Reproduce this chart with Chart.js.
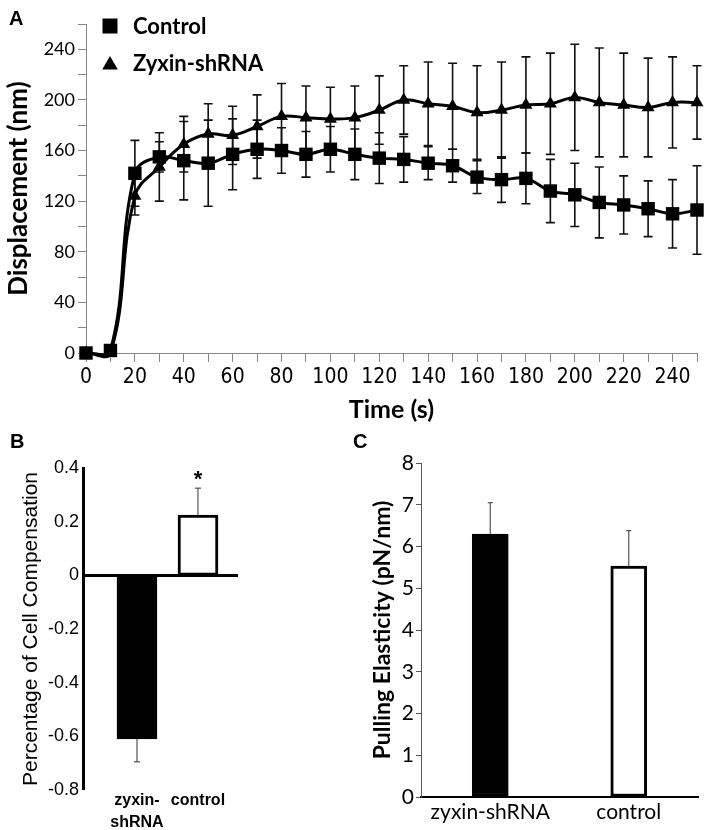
<!DOCTYPE html>
<html lang="en">
<head>
  <meta charset="UTF-8">
  <title>Zyxin-shRNA vs Control</title>
  <script src="https://cdn.jsdelivr.net/npm/chart.js"></script>
  <style>
    body { margin: 0; background: #fff; }
    .painel { position: absolute; }
    .letra { position: absolute; font: bold 20px "Liberation Sans", Arial, sans-serif; color: #000; }
  </style>
</head>
<body>
  <div class="painel" style="left:0; top:0; width:708px; height:430px;"><canvas id="graficoA"></canvas></div>
  <div class="painel" style="left:0; top:440px; width:340px; height:390px;"><canvas id="graficoB"></canvas></div>
  <div class="painel" style="left:340px; top:440px; width:368px; height:390px;"><canvas id="graficoC"></canvas></div>
  <div class="letra" style="left:9px; top:7px;">A</div>
  <div class="letra" style="left:10px; top:430px;">B</div>
  <div class="letra" style="left:353px; top:430px;">C</div>

  <script>
    // painel A: deslocamento ao longo do tempo
    const tempos = [0, 10, 20, 30, 40, 50, 60, 70, 80, 90, 100, 110, 120, 130, 140, 150, 160, 170, 180, 190, 200, 210, 220, 230, 240, 250];
    const controleMedia = [0, 2, 142, 155, 152, 150, 157, 161, 160, 157, 161, 157, 154, 153, 150, 148, 139, 137, 138, 128, 125, 119, 117, 114, 110, 113];
    const controleErro = [0, 0, 26, 12, 31, 34, 28, 23, 18, 18, 18, 20, 20, 18, 13, 13, 13, 18, 20, 25, 25, 28, 23, 22, 27, 35];
    const zyxinMedia = [0, 0, 124, 147, 165, 173, 172, 179, 187, 186, 185, 186, 192, 200, 197, 195, 190, 192, 196, 197, 202, 198, 196, 194, 198, 198];
    const zyxinErro = [0, 0, 15, 27, 22, 24, 23, 25, 26, 25, 25, 25, 27, 27, 33, 34, 37, 38, 38, 40, 42, 43, 41, 39, 36, 29];

    // paineis B e C
    const grupos = ['zyxin-shRNA', 'control'];
    const compensacao = [-0.61, 0.225];
    const compensacaoErro = [0.085, 0.1];
    const significancia = ['', '*'];
    const elasticidade = [6.3, 5.53];
    const elasticidadeErro = [0.75, 0.85];

    const fonteCalibri = 'Lato, "Open Sans", sans-serif';
    const fonteArial = '"Liberation Sans", Arial, sans-serif';
    const fonteEstreita = '"Liberation Sans Narrow", "DejaVu Sans Condensed", Lato, sans-serif';

    Chart.defaults.color = '#000';
    Chart.defaults.animation = false;
    Chart.defaults.plugins.legend.display = false;
    Chart.defaults.plugins.tooltip.enabled = false;

    const zero = v => Math.abs(v) < 1e-9;

    // barras de erro desenhadas com a escala y do grafico
    const barrasErro = {
      id: 'barrasErro',
      desenha(chart, o) {
        const { ctx } = chart;
        const escala = chart.scales.y;
        chart.data.datasets.forEach((ds, i) => {
          if (!ds.erros) return;
          chart.getDatasetMeta(i).data.forEach((el, j) => {
            const bruto = ds.data[j];
            const valor = typeof bruto === 'object' ? bruto.y : bruto;
            const e = ds.erros[j];
            if (!e) return;
            const ini = o.lado === 'fora' ? valor : valor - e;
            const fim = o.lado === 'fora' ? valor + Math.sign(valor) * e : valor + e;
            const y1 = escala.getPixelForValue(ini);
            const y2 = escala.getPixelForValue(fim);
            ctx.save();
            ctx.strokeStyle = o.cor;
            ctx.lineWidth = o.largura;
            ctx.beginPath();
            ctx.moveTo(el.x, y1);
            ctx.lineTo(el.x, y2);
            if (o.lado !== 'fora') {
              ctx.moveTo(el.x - o.tampa, y1);
              ctx.lineTo(el.x + o.tampa, y1);
            }
            ctx.moveTo(el.x - o.tampa, y2);
            ctx.lineTo(el.x + o.tampa, y2);
            ctx.stroke();
            if (ds.marcas && ds.marcas[j]) {
              ctx.fillStyle = '#000';
              ctx.font = 'bold 22px ' + fonteArial;
              ctx.textAlign = 'center';
              ctx.textBaseline = 'alphabetic';
              ctx.fillText(ds.marcas[j], el.x, y2 - 2);
            }
            ctx.restore();
          });
        });
      },
      beforeDatasetsDraw(chart, args, o) { if (o.atras) this.desenha(chart, o); },
      afterDatasetsDraw(chart, args, o) { if (!o.atras) this.desenha(chart, o); }
    };

    // legenda dentro da area do grafico A
    const legendaA = {
      id: 'legendaA',
      afterDraw(chart) {
        const { ctx, chartArea } = chart;
        chart.data.datasets.forEach((ds, i) => {
          const cy = chartArea.top + 2 + i * 37;
          const cx = chartArea.left + 24;
          ctx.save();
          ctx.fillStyle = '#000';
          Chart.helpers.drawPoint(ctx, {
            pointStyle: ds.pointStyle,
            radius: ds.pointStyle === 'rect' ? 10.6 : 9,
            rotation: 0,
            borderWidth: 0
          }, cx, cy + (ds.pointStyle === 'rect' ? 0 : 2));
          ctx.font = 'bold 22px ' + fonteCalibri;
          ctx.textAlign = 'left';
          ctx.textBaseline = 'middle';
          ctx.fillText(ds.label, chartArea.left + 47, cy + 1);
          ctx.restore();
        });
      }
    };

    const pontos = (xs, ys) => xs.map((x, i) => ({ x, y: ys[i] }));

    new Chart(document.getElementById('graficoA'), {
      type: 'line',
      data: {
        datasets: [{
          label: 'Control',
          data: pontos(tempos, controleMedia),
          erros: controleErro,
          borderColor: '#000',
          backgroundColor: '#000',
          borderWidth: 3,
          pointStyle: 'rect',
          pointRadius: 9.5,
          pointBorderWidth: 0,
          tension: 0.4,
          clip: false
        }, {
          label: 'Zyxin-shRNA',
          data: pontos(tempos, zyxinMedia),
          erros: zyxinErro,
          borderColor: '#000',
          backgroundColor: '#000',
          borderWidth: 3,
          pointStyle: 'triangle',
          pointRadius: 7.5,
          pointBorderWidth: 0,
          tension: 0.4,
          clip: false
        }]
      },
      options: {
        responsive: true,
        maintainAspectRatio: false,
        layout: { padding: { left: 0, right: 11, top: 24, bottom: 0 } },
        elements: { line: { capBezierPoints: false } },
        plugins: {
          barrasErro: { lado: 'ambos', cor: '#111', largura: 1.6, tampa: 4.5, atras: true }
        },
        scales: {
          x: {
            type: 'linear',
            min: 0,
            max: 250,
            afterFit: s => { s.height = 77; },
            ticks: {
              stepSize: 10,
              autoSkip: false,
              maxRotation: 0,
              padding: 3,
              font: { family: fonteEstreita, size: 21 },
              callback: v => (v % 20 === 0 && v <= 240) ? v : ''
            },
            grid: { drawOnChartArea: false, color: '#888', tickLength: 9 },
            border: { color: '#888' },
            title: {
              display: true,
              text: 'Time (s)',
              font: { family: fonteCalibri, weight: 'bold', size: 25, lineHeight: 1 },
              padding: { top: 8, bottom: 8 }
            }
          },
          y: {
            min: 0,
            max: 260,
            afterFit: s => { s.width = 86; },
            ticks: {
              stepSize: 20,
              padding: 3,
              font: { family: fonteCalibri, size: 18 },
              callback: v => (v % 40 === 0 && v <= 240) ? v : ''
            },
            grid: { drawOnChartArea: false, color: '#888', tickLength: 8 },
            border: { color: '#888' },
            title: {
              display: true,
              text: 'Displacement (nm)',
              font: { family: fonteCalibri, weight: 'bold', size: 26, lineHeight: 1 },
              padding: { top: 6, bottom: 0 }
            }
          }
        }
      },
      plugins: [barrasErro, legendaA]
    });

    new Chart(document.getElementById('graficoB'), {
      type: 'bar',
      data: {
        datasets: [{
          data: pontos(grupos.map((g, i) => i + 1), compensacao),
          erros: compensacaoErro,
          marcas: significancia,
          backgroundColor: ['#000', '#fff'],
          borderColor: '#000',
          borderWidth: 3,
          borderSkipped: false,
          barThickness: 40
        }]
      },
      options: {
        responsive: true,
        maintainAspectRatio: false,
        layout: { padding: { left: 0, right: 102, top: 28, bottom: 0 } },
        plugins: {
          barrasErro: { lado: 'fora', cor: '#333', largura: 1, tampa: 3, atras: false }
        },
        scales: {
          x: {
            type: 'linear',
            offset: false,
            min: 0.115,
            max: 2.656,
            afterFit: s => { s.height = 40; },
            afterBuildTicks: s => { s.ticks = grupos.map((g, i) => ({ value: i + 1 })); },
            ticks: {
              autoSkip: false,
              maxRotation: 0,
              padding: 0,
              font: { family: fonteArial, weight: 'bold', size: 16, lineHeight: 1.35 },
              callback: (v, i) => grupos[i].includes('-') ? grupos[i].replace('-', '-\n').split('\n') : grupos[i]
            },
            grid: { display: false, drawTicks: false, tickLength: 0, offset: false },
            border: { display: false }
          },
          y: {
            min: -0.8,
            max: 0.4,
            afterFit: s => { s.width = 83; },
            ticks: {
              stepSize: 0.2,
              padding: 4,
              font: { family: fonteArial, size: 18 },
              callback: v => zero(v) ? '0' : v.toFixed(1)
            },
            grid: {
              drawTicks: false,
              color: c => (c.tick && zero(c.tick.value)) ? '#000' : 'rgba(0,0,0,0)',
              lineWidth: c => (c.tick && zero(c.tick.value)) ? 3 : 0
            },
            border: { color: '#000', width: 3 },
            title: {
              display: true,
              text: 'Percentage of Cell Compensation',
              font: { family: fonteArial, size: 21, lineHeight: 1 },
              padding: { top: 21, bottom: 0 }
            }
          }
        }
      },
      plugins: [barrasErro]
    });

    new Chart(document.getElementById('graficoC'), {
      type: 'bar',
      data: {
        labels: grupos,
        datasets: [{
          data: elasticidade,
          erros: elasticidadeErro,
          backgroundColor: ['#000', '#fff'],
          borderColor: '#000',
          borderWidth: 3,
          borderSkipped: false,
          barThickness: 36
        }]
      },
      options: {
        responsive: true,
        maintainAspectRatio: false,
        layout: { padding: { left: 0, right: 10, top: 23, bottom: 0 } },
        plugins: {
          barrasErro: { lado: 'fora', cor: '#555', largura: 1.2, tampa: 2.5, atras: false }
        },
        scales: {
          x: {
            afterFit: s => { s.height = 33; },
            ticks: { padding: 5, font: { family: fonteCalibri, size: 21, lineHeight: 1 } },
            grid: { display: false, drawTicks: false, tickLength: 0 },
            border: { color: '#000', width: 2 }
          },
          y: {
            min: 0,
            max: 8,
            afterFit: s => { s.width = 81; },
            ticks: { stepSize: 1, padding: 2, font: { family: fonteCalibri, size: 21 } },
            grid: { drawOnChartArea: false, color: '#555', tickLength: 5 },
            border: { color: '#555', width: 1 },
            title: {
              display: true,
              text: 'Pulling Elasticity (pN/nm)',
              font: { family: fonteCalibri, weight: 'bold', size: 23, lineHeight: 1 },
              padding: { top: 31.5, bottom: 0 }
            }
          }
        }
      },
      plugins: [barrasErro]
    });
  </script>
</body>
</html>
